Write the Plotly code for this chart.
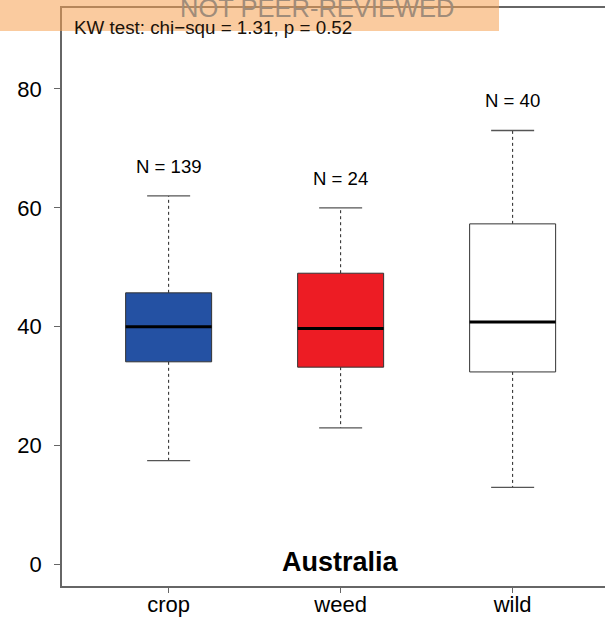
import plotly.graph_objects as go

# Summary statistics per group (R-style boxplot: whiskers, hinges, median)
categories = ["crop", "weed", "wild"]
lower_whisker = [17.5, 23.0, 13.0]
q1 = [34.1, 33.2, 32.4]
median = [40.0, 39.7, 40.8]
q3 = [45.7, 49.0, 57.3]
upper_whisker = [62.0, 60.0, 73.0]
n_obs = [139, 24, 40]
box_fill = ["#2451a3", "#ed1c24", "#ffffff"]

y_ticks = [0, 20, 40, 60, 80]
kw_label = "KW test: chi\u2212squ = 1.31, p = 0.52"
region = "Australia"

FONT = "Liberation Sans, Arial, Helvetica, sans-serif"
half_box = 0.25
half_cap = 0.125

W, H = 605, 618
L, R, T, B = 62, 0, 8, 32
pw, ph = W - L - R, H - T - B


def px_x(px):
    return (px - L) / pw


def px_y(py):
    return 1 - (py - T) / ph


fig = go.Figure()

for i, cat in enumerate(categories):
    x = i + 1
    # whiskers (dashed)
    for a, b in ((q3[i], upper_whisker[i]), (q1[i], lower_whisker[i])):
        fig.add_trace(go.Scatter(
            x=[x, x], y=[a, b], mode="lines",
            line=dict(color="#222222", width=1, dash="3px,3px"),
            hoverinfo="skip", showlegend=False))
    # staples
    for v in (upper_whisker[i], lower_whisker[i]):
        fig.add_trace(go.Scatter(
            x=[x - half_cap, x + half_cap], y=[v, v], mode="lines",
            line=dict(color="#555555", width=1.3),
            hoverinfo="skip", showlegend=False))
    # box
    fig.add_trace(go.Scatter(
        x=[x - half_box, x + half_box, x + half_box, x - half_box, x - half_box],
        y=[q1[i], q1[i], q3[i], q3[i], q1[i]],
        mode="lines", fill="toself", fillcolor=box_fill[i],
        line=dict(color="#333333", width=1),
        hoverinfo="skip", showlegend=False))
    # median
    fig.add_trace(go.Scatter(
        x=[x - half_box, x + half_box], y=[median[i], median[i]], mode="lines",
        line=dict(color="#000000", width=3),
        hoverinfo="skip", showlegend=False))
    # group size label above the upper whisker
    fig.add_annotation(
        x=x, y=upper_whisker[i] + 5, xref="x", yref="y",
        text=f"N = {n_obs[i]}", showarrow=False,
        font=dict(family=FONT, size=18.6, color="#000000"),
        xanchor="center", yanchor="middle")

# region name inside the panel
fig.add_annotation(
    x=2, y=0.5, xref="x", yref="y", text=f"<b>{region}</b>", showarrow=False,
    font=dict(family=FONT, size=27, color="#000000"),
    xanchor="center", yanchor="middle")

# test statistic
fig.add_annotation(
    x=px_x(72), y=px_y(28), xref="paper", yref="paper", text=kw_label,
    showarrow=False, font=dict(family=FONT, size=18.8, color="#1a120a"),
    xanchor="left", yanchor="middle")

# banner across the top-left
fig.add_shape(
    type="rect", xref="paper", yref="paper",
    x0=px_x(0), x1=px_x(499), y0=px_y(31), y1=px_y(-2),
    fillcolor="rgba(245,160,80,0.55)", line=dict(width=0), layer="above")
fig.add_annotation(
    x=px_x(317), y=px_y(8), xref="paper", yref="paper", text="NOT PEER-REVIEWED",
    showarrow=False, font=dict(family=FONT, size=25.5, color="#a08c7a"),
    xanchor="center", yanchor="middle")

fig.update_layout(
    width=W, height=H,
    margin=dict(l=L, r=R, t=T, b=B, autoexpand=False),
    paper_bgcolor="white", plot_bgcolor="white",
    font=dict(family=FONT, color="#000000"),
    showlegend=False,
)
fig.update_xaxes(
    range=[0.38, 0.38 + pw / 172.0],
    tickvals=[1, 2, 3], ticktext=categories,
    ticks="outside", ticklen=5, tickwidth=1, tickcolor="#666666",
    showline=True, linecolor="#666666", linewidth=1.5, mirror=True,
    showgrid=False, zeroline=False, ticklabelstandoff=-7,
    tickfont=dict(family=FONT, size=22, color="#000000"),
    automargin=False, fixedrange=True,
)
fig.update_yaxes(
    range=[-3.6, 93.6], tickvals=y_ticks,
    ticks="outside", ticklen=6, tickwidth=1, tickcolor="#666666",
    showline=True, linecolor="#666666", linewidth=1.5, mirror=False,
    showgrid=False, zeroline=False, ticklabelstandoff=8,
    tickfont=dict(family=FONT, size=22, color="#000000"),
    automargin=False, fixedrange=True,
)

fig.write_html("out.html")
